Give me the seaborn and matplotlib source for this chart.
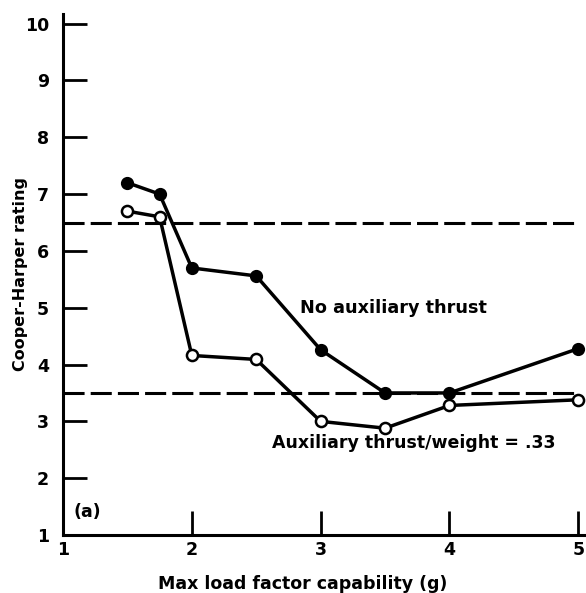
import matplotlib
matplotlib.use("Agg")
import matplotlib.pyplot as plt
import seaborn as sns
import pandas as pd

# Data
load_factor = [1.5, 1.75, 2.0, 2.5, 3.0, 3.5, 4.0, 5.0]
rating_no_aux = [7.2, 7.0, 5.7, 5.56, 4.26, 3.5, 3.5, 4.28]
rating_aux = [6.7, 6.6, 4.16, 4.09, 3.0, 2.88, 3.28, 3.38]
boundaries = [6.5, 3.5]

sns.set_style("ticks")
plt.rcParams['font.family'] = ['DejaVu Sans']
plt.rcParams['font.weight'] = 'bold'
plt.rcParams['text.color'] = 'black'
plt.rcParams['axes.labelcolor'] = 'black'
plt.rcParams['xtick.color'] = 'black'
plt.rcParams['ytick.color'] = 'black'

df_no = pd.DataFrame({'g': load_factor, 'rating': rating_no_aux})
df_aux = pd.DataFrame({'g': load_factor, 'rating': rating_aux})

fig = plt.figure(figsize=(5.86, 5.93), dpi=100)
ax = fig.add_axes([0.1075, 0.0978, 0.8925, 0.8786])

# handling-quality boundaries (dashed)
for y in boundaries:
    ax.hlines(y, 1, 5, colors='black', linestyles=(0, (6.9, 2.0)), linewidth=2.2)

sns.lineplot(data=df_no, x='g', y='rating', ax=ax, color='black', linewidth=2.5,
             marker='o', markersize=8, markerfacecolor='black', markeredgecolor='black',
             markeredgewidth=1.5, clip_on=False)
sns.lineplot(data=df_aux, x='g', y='rating', ax=ax, color='black', linewidth=2.5,
             marker='o', markersize=8, markerfacecolor='white', markeredgecolor='black',
             markeredgewidth=1.8, clip_on=False)

ax.text(2.84, 5.0, 'No auxiliary thrust', fontsize=12.7, fontweight='bold', va='center')
ax.text(2.62, 2.62, 'Auxiliary thrust/weight = .33', fontsize=12.5, fontweight='bold', va='center')
ax.text(1.08, 1.4, '(a)', fontsize=12.5, fontweight='bold', va='center')

ax.set_xlim(1, 5.06)
ax.set_ylim(1, 10.17)
ax.set_xticks([1, 2, 3, 4, 5])
ax.set_yticks(range(1, 11))
ax.tick_params(direction='in', length=17, width=2, labelsize=12.5, color='black')
ax.tick_params(axis='x', pad=4.5)
ax.tick_params(axis='y', pad=10)
for lbl in ax.get_xticklabels() + ax.get_yticklabels():
    lbl.set_fontweight('bold')
ax.set_xlabel('Max load factor capability (g)', fontsize=12.5, fontweight='bold')
ax.xaxis.set_label_coords(0.459, -0.077)
ax.set_ylabel('Cooper-Harper rating', fontsize=11.5, fontweight='bold', labelpad=-2)

sns.despine(ax=ax)
for side in ['left', 'bottom']:
    ax.spines[side].set_linewidth(2.2)
    ax.spines[side].set_color('black')

fig.savefig('out.png', dpi=100)
